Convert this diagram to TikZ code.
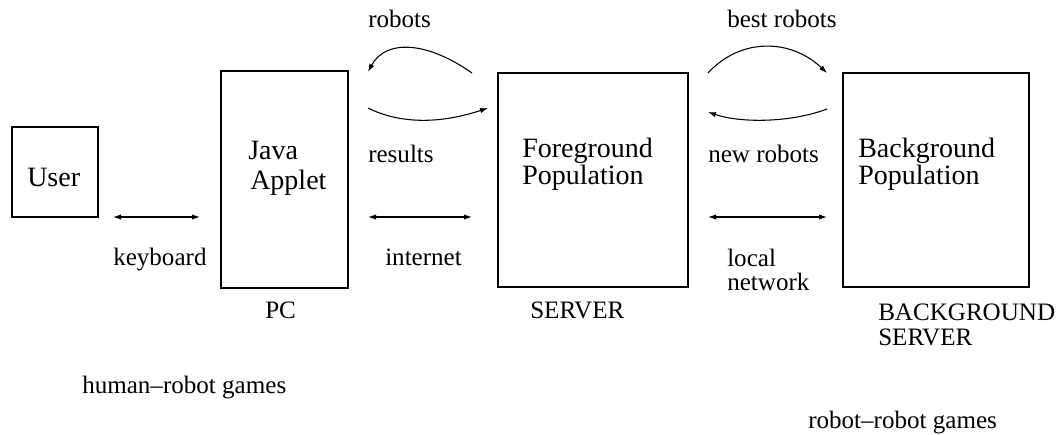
\documentclass[tikz,border=0pt]{standalone}
\usepackage{fontspec}
\setmainfont{Liberation Serif}
\usetikzlibrary{arrows.meta}
\begin{document}
\begin{tikzpicture}[x=0.75pt,y=-0.75pt,
  box/.style={draw,line width=1.3pt,rectangle,inner sep=0pt},
  boxtext/.style={anchor=base west,inner sep=0pt,font=\fontsize{21}{22}\selectfont},
  lbl/.style={anchor=base west,inner sep=0pt,font=\fontsize{18.8}{19}\selectfont},
  link/.style={line width=0.8pt,{Latex[length=6pt,width=4pt]}-{Latex[length=6pt,width=4pt]}},
  flow/.style={line width=0.8pt,-{Latex[length=6pt,width=4pt]}}]
\useasboundingbox (0,0) rectangle (1058,435);

% machines
\node[box,minimum width=64.5pt,minimum height=67.5pt] (user) at (55,172) {};
\node[box,minimum width=95.25pt,minimum height=162.75pt] (applet) at (284.5,179.5) {};
\node[box,minimum width=142.5pt,minimum height=160.5pt] (fore) at (593,180) {};
\node[box,minimum width=139.5pt,minimum height=160.5pt] (back) at (936,180) {};

% names inside the boxes
\node[boxtext] (userA) at (27,186) {User};
\node[boxtext] (appletA) at (248,160) {Java};
\node[boxtext] (appletB) at (250,190) {Applet};
\node[boxtext] (foreA) at (522,157) {Foreground};
\node[boxtext] (foreB) at (522,185) {Population};
\node[boxtext] (backA) at (858,157) {Background};
\node[boxtext] (backB) at (858,185) {Population};

% connection ends
\coordinate (kbL) at (113,217);
\coordinate (kbR) at (200,217);
\coordinate (inL) at (368,217);
\coordinate (inR) at (472,217);
\coordinate (lnL) at (708,217);
\coordinate (lnR) at (827,217);
\coordinate (robS) at (472,73);
\coordinate (robE) at (368,72);
\coordinate (resS) at (368,108);
\coordinate (resE) at (488,108);
\coordinate (bestS) at (708,73);
\coordinate (bestE) at (827,73);
\coordinate (newS) at (827,109);
\coordinate (newE) at (708,112);

% links
\draw[link] (kbL) -- (kbR);
\draw[link] (inL) -- (inR);
\draw[link] (lnL) -- (lnR);

% robot traffic
\draw[flow] (robS) .. controls (425,40) and (385,40) .. (robE);
\draw[flow] (resS) .. controls (400,124) and (440,124) .. (resE);
\draw[flow] (bestS) .. controls (740,38) and (790,38) .. (bestE);
\draw[flow] (newS) .. controls (790,123) and (740,123) .. (newE);

% labels
\node[lbl] (robL) at (368,28) {robots};
\node[lbl] (resL) at (368,162) {results};
\node[lbl] (bestL) at (727,28) {best robots};
\node[lbl] (newL) at (708,162) {new robots};
\node[lbl] (kbT) at (113,265) {keyboard};
\node[lbl] (inT) at (385,265) {internet};
\node[lbl] (lnA) at (727,267) {local};
\node[lbl] (lnB) at (727,290) {network};
\node[lbl] (pcL) at (265,318) {PC};
\node[lbl] (srvL) at (530,318) {SERVER};
\node[lbl] (bsA) at (878,320) {BACKGROUND};
\node[lbl] (bsB) at (878,345) {SERVER};
\node[lbl] (hrg) at (82,393) {human–robot games};
\node[lbl] (rrg) at (808,428) {robot–robot games};
\end{tikzpicture}
\end{document}
